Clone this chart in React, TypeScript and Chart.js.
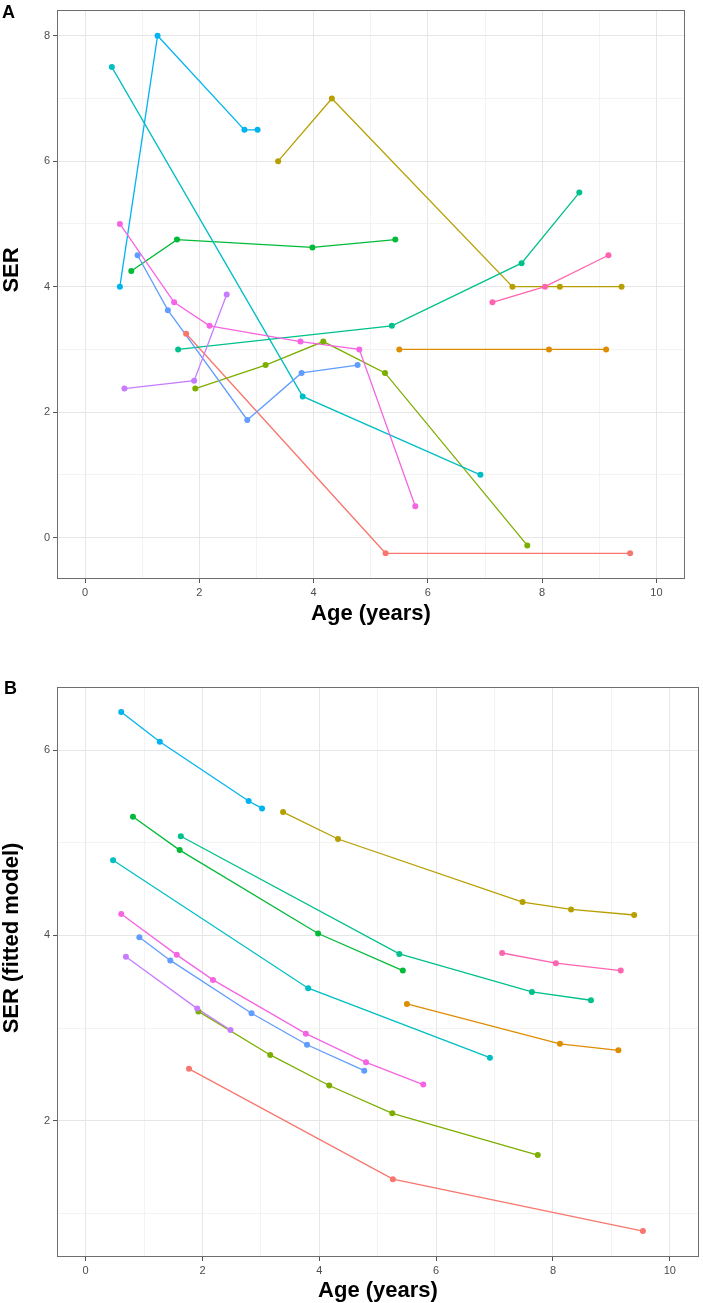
import React, { useEffect, useRef } from 'react';
import { Chart, registerables } from 'chart.js';

Chart.register(...registerables);

// ggplot2 hue palette (12 subjects)
const subjectColors = [
  '#F8766D', '#DE8C00', '#B79F00', '#7CAE00', '#00BA38', '#00C08B',
  '#00BFC4', '#00B4F0', '#619CFF', '#C77CFF', '#F564E3', '#FF64B0',
];

// Age (years) at each visit, per subject
const ageBySubject: number[][] = [
  [1.77, 5.26, 9.54],
  [5.5, 8.12, 9.12],
  [3.38, 4.32, 7.48, 8.31, 9.39],
  [1.93, 3.16, 4.17, 5.25, 7.74],
  [0.81, 1.61, 3.98, 5.43],
  [1.63, 5.37, 7.64, 8.65],
  [0.47, 3.81, 6.92],
  [0.61, 1.27, 2.79, 3.02],
  [0.92, 1.45, 2.84, 3.79, 4.77],
  [0.69, 1.91, 2.48],
  [0.61, 1.56, 2.18, 3.77, 4.8, 5.78],
  [7.13, 8.05, 9.16],
];

// Panel A: observed SER
const serBySubject: number[][] = [
  [3.25, -0.25, -0.25],
  [3.0, 3.0, 3.0],
  [6.0, 7.0, 4.0, 4.0, 4.0],
  [2.375, 2.75, 3.125, 2.625, -0.125],
  [4.25, 4.75, 4.625, 4.75],
  [3.0, 3.375, 4.375, 5.5],
  [7.5, 2.25, 1.0],
  [4.0, 8.0, 6.5, 6.5],
  [4.5, 3.625, 1.875, 2.625, 2.75],
  [2.375, 2.5, 3.875],
  [5.0, 3.75, 3.375, 3.125, 3.0, 0.5],
  [3.75, 4.0, 4.5],
];

// Panel B: SER from the fitted model
const fittedBySubject: number[][] = [
  [2.56, 1.37, 0.81],
  [3.26, 2.83, 2.76],
  [5.33, 5.04, 4.36, 4.28, 4.22],
  [3.18, 2.71, 2.38, 2.08, 1.63],
  [5.28, 4.92, 4.02, 3.62],
  [5.07, 3.8, 3.39, 3.3],
  [4.81, 3.43, 2.68],
  [6.41, 6.09, 5.45, 5.37],
  [3.98, 3.73, 3.16, 2.82, 2.54],
  [3.77, 3.21, 2.98],
  [4.23, 3.79, 3.52, 2.94, 2.63, 2.39],
  [3.81, 3.7, 3.62],
];

const xTitle = 'Age (years)';
const yTitleA = 'SER';
const yTitleB = 'SER (fitted model)';

const FONT = '"Liberation Sans", Arial, Helvetica, sans-serif';

interface PanelSpec {
  values: number[][];
  yMin: number;
  yMax: number;
  canvasH: number;
  padTop: number;
  padRight: number;
  xAxisH: number;
  letter: string;
  letterX: number;
  letterY: number;
  yTitle: string;
  yTitleCenter: number;
  xTitleBaseline: number;
}

function buildDatasets(values: number[][]) {
  const lines: any[] = [];
  const points: any[] = [];
  for (let s = subjectColors.length - 1; s >= 0; s--) {
    const data = ageBySubject[s].map((a, i) => ({ x: a, y: values[s][i] }));
    lines.push({
      data,
      showLine: true,
      borderColor: subjectColors[s],
      borderWidth: 1.3,
      pointRadius: 0,
      tension: 0,
      order: 1,
    });
    points.push({
      data,
      showLine: false,
      pointRadius: 3,
      pointBorderWidth: 0,
      pointBackgroundColor: subjectColors[s],
      backgroundColor: subjectColors[s],
      borderColor: subjectColors[s],
      order: 0,
    });
  }
  return [...lines, ...points];
}

function decorPlugin(spec: PanelSpec) {
  return {
    id: 'ggDecor',
    afterDraw(chart: any) {
      const { ctx, chartArea: a } = chart;
      ctx.save();
      ctx.strokeStyle = '#6e6e6e';
      ctx.lineWidth = 1;
      ctx.strokeRect(a.left + 0.5, a.top + 0.5, a.right - a.left - 1, a.bottom - a.top - 1);

      ctx.fillStyle = '#000';
      ctx.font = `bold 18px ${FONT}`;
      ctx.textAlign = 'left';
      ctx.textBaseline = 'alphabetic';
      ctx.fillText(spec.letter, spec.letterX, spec.letterY);

      ctx.font = `bold 22px ${FONT}`;
      ctx.textAlign = 'center';
      ctx.fillText(xTitle, (a.left + a.right) / 2, spec.xTitleBaseline);

      ctx.translate(18, spec.yTitleCenter);
      ctx.rotate(-Math.PI / 2);
      ctx.textAlign = 'center';
      ctx.textBaseline = 'alphabetic';
      ctx.fillText(spec.yTitle, 0, 0);
      ctx.restore();
    },
  };
}

const isMajor = (v: number) => Math.abs(Math.round(v) - v) < 1e-9 && Math.round(v) % 2 === 0;

function axisCommon(min: number, max: number) {
  return {
    type: 'linear' as const,
    min,
    max,
    border: { display: false },
    grid: {
      color: (ctx: any) => (ctx.tick && isMajor(ctx.tick.value) ? '#E6E6E6' : '#F0F0F0'),
      lineWidth: (ctx: any) => (ctx.tick && isMajor(ctx.tick.value) ? 1 : 0.8),
      tickColor: (ctx: any) => (ctx.tick && isMajor(ctx.tick.value) ? '#555555' : 'rgba(0,0,0,0)'),
      tickLength: 4,
      tickWidth: 1,
      drawTicks: true,
    },
    ticks: {
      stepSize: 1,
      includeBounds: false,
      autoSkip: false,
      maxRotation: 0,
      padding: 3,
      color: '#4D4D4D',
      font: { family: FONT, size: 11 },
      callback: (v: any) => (isMajor(Number(v)) ? String(v) : ''),
    },
  };
}

function makeChart(canvas: HTMLCanvasElement, spec: PanelSpec) {
  return new Chart(canvas, {
    type: 'scatter',
    data: { datasets: buildDatasets(spec.values) },
    options: {
      animation: false,
      responsive: false,
      maintainAspectRatio: false,
      layout: { padding: { left: 0, right: spec.padRight, top: spec.padTop, bottom: 0 } },
      plugins: { legend: { display: false }, tooltip: { enabled: false } },
      scales: {
        x: {
          ...axisCommon(-0.49, 10.5),
          afterFit: (s: any) => {
            s.height = spec.xAxisH;
          },
        },
        y: {
          ...axisCommon(spec.yMin, spec.yMax),
          afterFit: (s: any) => {
            s.width = 57;
          },
        },
      },
    } as any,
    plugins: [decorPlugin(spec)],
  });
}

const specA: PanelSpec = {
  values: serBySubject,
  yMin: -0.66,
  yMax: 8.41,
  canvasH: 650,
  padTop: 10,
  padRight: 18,
  xAxisH: 71,
  letter: 'A',
  letterX: 2,
  letterY: 18,
  yTitle: yTitleA,
  yTitleCenter: 270,
  xTitleBaseline: 619.5,
};

const specB: PanelSpec = {
  values: fittedBySubject,
  yMin: 0.53,
  yMax: 6.68,
  canvasH: 653,
  padTop: 37,
  padRight: 2,
  xAxisH: 46,
  letter: 'B',
  letterX: 4,
  letterY: 44,
  yTitle: yTitleB,
  yTitleCenter: 288,
  xTitleBaseline: 646.5,
};

export default function App() {
  const refA = useRef<HTMLCanvasElement>(null);
  const refB = useRef<HTMLCanvasElement>(null);

  useEffect(() => {
    const a = makeChart(refA.current!, specA);
    const b = makeChart(refB.current!, specB);
    return () => {
      a.destroy();
      b.destroy();
    };
  }, []);

  return (
    <div style={{ position: 'fixed', left: 0, top: 0, width: 703, height: 1303, background: '#fff' }}>
      <canvas ref={refA} width={703} height={specA.canvasH} style={{ display: 'block', width: 703, height: specA.canvasH }} />
      <canvas ref={refB} width={703} height={specB.canvasH} style={{ display: 'block', width: 703, height: specB.canvasH }} />
    </div>
  );
}
